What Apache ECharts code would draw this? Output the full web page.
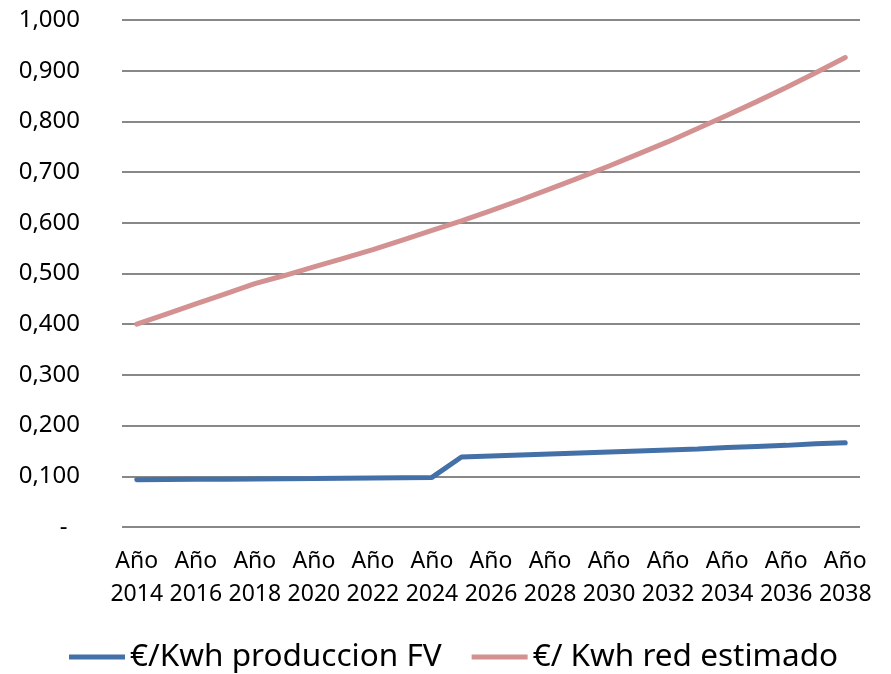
<!DOCTYPE html>
<html>
<head>
<meta charset="utf-8">
<script src="https://cdn.jsdelivr.net/npm/echarts@6/dist/echarts.min.js"></script>
<style>
  html, body { margin: 0; padding: 0; background: #fff; }
  #chart { width: 891px; height: 674px; }
</style>
</head>
<body>
<div id="chart"></div>
<script>
// categories
const years = ['Año\n2014', 'Año\n2015', 'Año\n2016', 'Año\n2017', 'Año\n2018', 'Año\n2019', 'Año\n2020',
  'Año\n2021', 'Año\n2022', 'Año\n2023', 'Año\n2024', 'Año\n2025', 'Año\n2026', 'Año\n2027', 'Año\n2028',
  'Año\n2029', 'Año\n2030', 'Año\n2031', 'Año\n2032', 'Año\n2033', 'Año\n2034', 'Año\n2035', 'Año\n2036',
  'Año\n2037', 'Año\n2038'];

// €/Kwh produccion FV
const produccionFV = [0.0930, 0.0935, 0.0940, 0.0944, 0.0949, 0.0954, 0.0958, 0.0963, 0.0968, 0.0973, 0.0978,
  0.138, 0.140, 0.142, 0.144, 0.146, 0.148, 0.150, 0.152, 0.154, 0.157, 0.159, 0.161, 0.164, 0.166];

// €/ Kwh red estimado
const redEstimado = [0.400, 0.420, 0.440, 0.460, 0.480, 0.496, 0.513, 0.530, 0.547, 0.566, 0.585,
  0.604, 0.624, 0.645, 0.667, 0.689, 0.712, 0.736, 0.760, 0.786, 0.812, 0.839, 0.867, 0.896, 0.926];

const seriesNames = ['€/Kwh produccion FV', '€/ Kwh red estimado'];

const chart = echarts.init(document.getElementById('chart'));
chart.setOption({
  animation: false,
  textStyle: { fontFamily: 'Noto Sans' },
  grid: { left: 122, right: 31, top: 20, bottom: 147 },
  legend: {
    top: 636,
    left: 64,
    icon: 'rect',
    itemWidth: 56,
    itemHeight: 5,
    itemGap: 30,
    textStyle: { fontSize: 31.5, color: '#000' },
    data: seriesNames
  },
  xAxis: {
    type: 'category',
    data: years,
    axisLine: { show: false },
    axisTick: { show: false },
    axisLabel: {
      interval: 1,
      fontSize: 23,
      color: '#000',
      lineHeight: 33,
      margin: 18
    }
  },
  yAxis: {
    type: 'value',
    min: 0,
    max: 1,
    interval: 0.1,
    axisLine: { show: false },
    axisTick: { show: false },
    splitLine: { lineStyle: { color: '#888', width: 2 } },
    axisLabel: {
      fontSize: 24,
      color: '#000',
      margin: 42,
      formatter: v => v === 0 ? '-  ' : v.toFixed(3).replace('.', ',')
    }
  },
  series: [
    {
      name: seriesNames[0],
      type: 'line',
      data: produccionFV,
      symbol: 'none',
      lineStyle: { color: '#4470A8', width: 5, cap: 'round' },
      itemStyle: { color: '#4470A8' }
    },
    {
      name: seriesNames[1],
      type: 'line',
      data: redEstimado,
      symbol: 'none',
      lineStyle: { color: '#D39191', width: 5, cap: 'round' },
      itemStyle: { color: '#D39191' }
    }
  ]
});
</script>
</body>
</html>
